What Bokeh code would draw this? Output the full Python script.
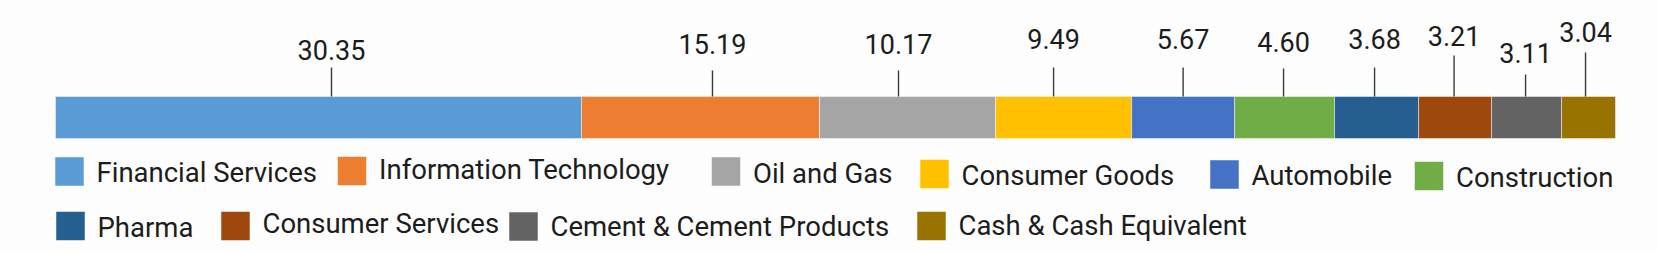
from bokeh.plotting import figure
from bokeh.models import Range1d, ColumnDataSource
from bokeh.core.properties import value
from bokeh.embed import file_html
from bokeh.resources import INLINE

# ---------------- data ----------------
sectors = ["Financial Services", "Information Technology", "Oil and Gas",
           "Consumer Goods", "Automobile", "Construction", "Pharma",
           "Consumer Services", "Cement & Cement Products", "Cash & Cash Equivalent"]
weights = [30.35, 15.19, 10.17, 9.49, 5.67, 4.60, 3.68, 3.21, 3.11, 3.04]
weight_labels = ["30.35", "15.19", "10.17", "9.49", "5.67", "4.60", "3.68", "3.21", "3.11", "3.04"]
# drawn length of each bar segment as it appears in the picture
segment_lengths = [29.84, 13.50, 9.99, 7.72, 5.84, 5.67, 4.77, 4.14, 3.97, 3.06]
colors = ["#5B9BD5", "#ED7D31", "#A5A5A5", "#FFC000", "#4472C4",
          "#70AD47", "#255E91", "#9E480E", "#636363", "#997300"]

# ---------------- layout / style ----------------
W, H = 1657, 253
BAR_LEFT, BAR_RIGHT = 55, 1615
BAR_TOP, BAR_BOTTOM = 96, 138
label_nudge = [13, 12, -9, -10, 0, -1, -2, -1, -1, -3]
leader_len = [29, 26, 26, 29, 29, 28, 29, 41, 22, 44]
label_rise = [37, 43, 43, 48, 48, 45, 48, 51, 34, 55]      # bar top -> text baseline
legend_x = [54.5, 337, 711, 919.5, 1209.5, 1414, 55.5, 220.5, 508.5, 916.5]
legend_y = [156.5, 156, 156.5, 159, 159.5, 161, 211, 211, 211.5, 211]
legend_text_drop = [25, 22.5, 26.5, 25.5, 25, 25.5, 25.5, 21.5, 24, 24]  # swatch top -> baseline
SW, GAP = 29, 12.5
FONT = value("Roboto")
LABEL_SIZE, LEGEND_SIZE = 27, 27.5
CAP_MID = 0.355   # cap-height centre above the baseline, in em
TEXT_COLOR = "#1c1c1c"
BG = "#FDFDFD"

total = sum(segment_lengths)
scale = (BAR_RIGHT - BAR_LEFT) / total
x_start = -BAR_LEFT / scale
x_end = x_start + W / scale

lefts, rights = [], []
acc = 0.0
for v in segment_lengths:
    lefts.append(acc)
    acc += v
    rights.append(acc)
centers = [(l + r) / 2 + n / scale for l, r, n in zip(lefts, rights, label_nudge)]

p = figure(width=W, height=H, output_backend="svg", toolbar_location=None,
           x_range=Range1d(x_start, x_end), y_range=Range1d(H, 0),
           x_axis_location=None, y_axis_location=None, min_border=0,
           background_fill_color=BG, border_fill_color=BG, outline_line_color=None)
p.xgrid.visible = False
p.ygrid.visible = False
p.extra_x_ranges = {"px": Range1d(0, W)}

bar_src = ColumnDataSource(dict(left=lefts, right=rights, color=colors, sector=sectors, w=weights))
p.hbar(y=(BAR_TOP + BAR_BOTTOM) / 2, height=BAR_BOTTOM - BAR_TOP, left="left", right="right",
       fill_color="color", line_color="white", line_alpha=0.45, line_width=1, source=bar_src)

# leader lines and value labels
lead_src = ColumnDataSource(dict(
    x=centers,
    y0=[BAR_TOP] * len(centers),
    y1=[BAR_TOP - L for L in leader_len],
    ty=[BAR_TOP - r - CAP_MID * LABEL_SIZE for r in label_rise],
    text=weight_labels))
p.segment(x0="x", y0="y0", x1="x", y1="y1", line_color="#3a3a3a", line_width=1.4, source=lead_src)
p.text(x="x", y="ty", text="text", text_font=FONT, text_font_size=f"{LABEL_SIZE}px",
       text_align="center", text_baseline="middle", text_color=TEXT_COLOR, source=lead_src)

# legend drawn by hand
leg_src = ColumnDataSource(dict(
    left=legend_x,
    right=[x + SW for x in legend_x],
    top=legend_y,
    bottom=[y + SW for y in legend_y],
    color=colors,
    tx=[x + SW + GAP for x in legend_x],
    ty=[y + d - CAP_MID * LEGEND_SIZE for y, d in zip(legend_y, legend_text_drop)],
    text=sectors))
p.quad(left="left", right="right", top="top", bottom="bottom", fill_color="color",
       line_color="white", line_alpha=0.5, line_width=1, x_range_name="px", source=leg_src)
p.text(x="tx", y="ty", text="text", text_font=FONT, text_font_size=f"{LEGEND_SIZE}px",
       text_align="left", text_baseline="middle", text_color=TEXT_COLOR,
       x_range_name="px", source=leg_src)

open("out.html", "w").write(file_html(p, INLINE))
